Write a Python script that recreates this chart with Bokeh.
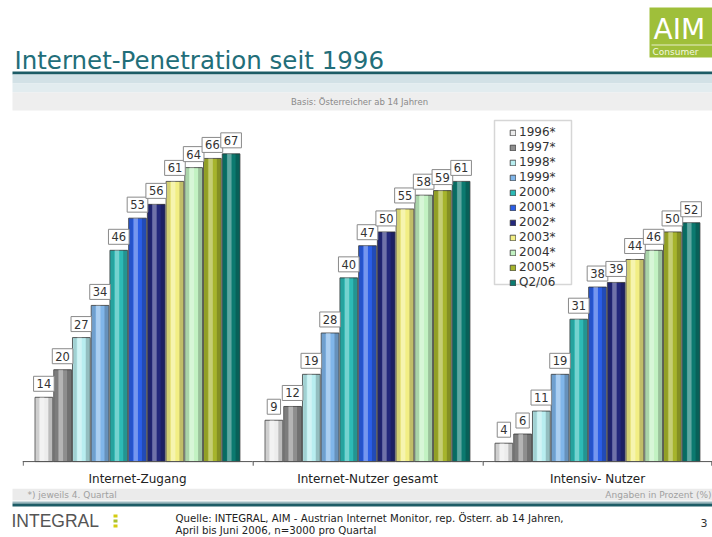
from bokeh.plotting import figure
from bokeh.models import Range1d, FactorRange, ColumnDataSource, BoxAnnotation, Spacer
from bokeh.transform import dodge
from bokeh.layouts import column, row
from bokeh.embed import file_html
from bokeh.resources import INLINE
from bokeh.core.properties import value

# ---------------- data ----------------
categories = ["Internet-Zugang", "Internet-Nutzer gesamt", "Intensiv- Nutzer"]
series_names = ["1996*", "1997*", "1998*", "1999*", "2000*", "2001*", "2002*",
                "2003*", "2004*", "2005*", "Q2/06"]
v1996 = [14, 9, 4]
v1997 = [20, 12, 6]
v1998 = [27, 19, 11]
v1999 = [34, 28, 19]
v2000 = [46, 40, 31]
v2001 = [53, 47, 38]
v2002 = [56, 50, 39]
v2003 = [61, 55, 44]
v2004 = [64, 58, 46]
v2005 = [66, 59, 50]
vQ206 = [67, 61, 52]
series_values = [v1996, v1997, v1998, v1999, v2000, v2001, v2002,
                 v2003, v2004, v2005, vQ206]
colors = ["#ececec", "#8e8e8e", "#b8eef0", "#80b6ea", "#2cbab6", "#2b5ee6",
          "#24297c", "#f2ee84", "#c2f2c2", "#a6b42c", "#0b7a70"]

FONT = "DejaVu Sans"
W = 712
TEAL_DARK = "#1d5c66"

def blank(fig):
    fig.axis.visible = False
    fig.grid.visible = False
    fig.outline_line_color = None
    fig.background_fill_color = "white"
    fig.border_fill_color = "white"

def txt(fig, x, y, s, size, color, align="left", font=FONT):
    fig.text(x=[x], y=[y], text=[s], text_font=value(font), text_font_size=size,
             text_color=color, text_align=align, text_baseline="middle")

# ---------------- header (page y 0..112) ----------------
HH = 112
head = figure(width=W, height=HH, x_range=Range1d(0, W), y_range=Range1d(HH, 0),
              toolbar_location=None, output_backend="svg", min_border=0)
blank(head)
# AIM logo
head.quad(left=649, right=W, top=7, bottom=57, fill_color="#9fbf3a", line_color=None)
head.quad(left=651, right=W, top=44, bottom=45, fill_color="#e8f0c8", line_color=None)
txt(head, 653, 29, "AIM", "28px", "white")
txt(head, 652, 51, "Consumer", "9px", "#f4f8e0")
# title
txt(head, 14, 59.5, "Internet-Penetration seit 1996", "24.5px", "#226e79")
head.quad(left=12, right=W, top=71, bottom=74, fill_color=TEAL_DARK, line_color=None)
head.quad(left=12, right=W, top=74, bottom=83, fill_color="#d2e1e6", line_color=None)
head.quad(left=12, right=W, top=83, bottom=92, fill_color="#e2ecef", line_color=None)
head.quad(left=12, right=W, top=92, bottom=110, fill_color="#eeeeee", line_color=None)
txt(head, 359, 101, "Basis: Österreicher ab 14 Jahren", "8.5px", "#8a8a8a", "center")

# ---------------- chart (page y 112..488, x 22..712) ----------------
chart = figure(width=W - 22, height=376, x_range=FactorRange(factors=categories),
               y_range=Range1d(-1.94, 76), toolbar_location=None, output_backend="svg",
               min_border_left=0, min_border_right=0, min_border_top=0,
               min_border_bottom=15)
chart.grid.visible = False
chart.outline_line_color = None
chart.yaxis.visible = False
chart.xaxis.axis_line_color = None
chart.xaxis.major_tick_line_color = None
chart.xaxis.minor_tick_line_color = None
chart.xaxis.major_tick_out = 0
chart.xaxis.major_tick_in = 0
chart.xaxis.major_label_text_font = FONT
chart.xaxis.major_label_text_font_size = "12px"
chart.xaxis.major_label_text_color = "#222222"
chart.xaxis.major_label_standoff = 1

# legend frame (drawn beneath the glyphs)
chart.add_layout(BoxAnnotation(left=472, right=549, top=350, bottom=186,
                               left_units="screen", right_units="screen",
                               top_units="screen", bottom_units="screen",
                               fill_color="white", fill_alpha=1, line_color="#777777",
                               line_width=1.5, level="underlay"))

bar_w = 0.077
step = 0.0814
n = len(series_names)
src = ColumnDataSource(dict(cat=categories, **{f"s{i}": series_values[i] for i in range(n)},
                            **{f"t{i}": [str(v) for v in series_values[i]] for i in range(n)}))

for i, name in enumerate(series_names):
    off = (i - (n - 1) / 2) * step
    chart.vbar(x=dodge("cat", off, range=chart.x_range), top=f"s{i}", width=bar_w,
               source=src, fill_color=colors[i], line_color="#3a3a3a", line_width=0.8,
               legend_label=name)
    # cylinder shading
    chart.vbar(x=dodge("cat", off - bar_w * 0.36, range=chart.x_range), top=f"s{i}",
               width=bar_w * 0.2, source=src, fill_color="black", fill_alpha=0.12,
               line_color=None)
    chart.vbar(x=dodge("cat", off - bar_w * 0.1, range=chart.x_range), top=f"s{i}",
               width=bar_w * 0.25, source=src, fill_color="white", fill_alpha=0.35,
               line_color=None)
    chart.vbar(x=dodge("cat", off + bar_w * 0.36, range=chart.x_range), top=f"s{i}",
               width=bar_w * 0.22, source=src, fill_color="black", fill_alpha=0.2,
               line_color=None)

for i in range(n):
    off = (i - (n - 1) / 2) * step
    chart.text(x=dodge("cat", off, range=chart.x_range), y=f"s{i}", text=f"t{i}",
               source=src, text_font=value(FONT), text_font_size="11.5px",
               text_color="#333333", text_align="center", text_baseline="bottom",
               y_offset=-6, padding=3, background_fill_color="white",
               border_line_color="#8a8a8a", border_line_width=1)

# baseline and dividers
sep = ColumnDataSource(dict(cat=categories))
chart.segment(x0=dodge("cat", -0.5, range=chart.x_range), x1=dodge("cat", 0.5, range=chart.x_range),
              y0=0, y1=0, source=sep, line_color="#555555", line_width=1)
chart.segment(x0=dodge("cat", -0.497, range=chart.x_range), x1=dodge("cat", -0.497, range=chart.x_range),
              y0=0, y1=-0.9, source=sep, line_color="#555555", line_width=1)
sep_end = ColumnDataSource(dict(cat=categories[-1:]))
chart.segment(x0=dodge("cat", 0.497, range=chart.x_range), x1=dodge("cat", 0.497, range=chart.x_range),
              y0=0, y1=-0.9, source=sep_end, line_color="#555555", line_width=1)

lg = chart.legend[0]
lg.location = (487, 181)
lg.border_line_color = None
lg.background_fill_alpha = 0
lg.padding = 2
lg.spacing = 1
lg.margin = 0
lg.label_height = 13
lg.glyph_height = 7
lg.glyph_width = 7
lg.label_standoff = 3
lg.label_text_font = FONT
lg.label_text_font_size = "12px"
lg.label_text_color = "#333333"

# ---------------- footer (page y 488..537) ----------------
foot = figure(width=W, height=49, x_range=Range1d(0, W), y_range=Range1d(537, 488),
              toolbar_location=None, output_backend="svg", min_border=0)
blank(foot)
foot.quad(left=12, right=W, top=488, bottom=500, fill_color="#ebebeb", line_color=None)
txt(foot, 27, 494, "*) jeweils 4. Quartal", "9px", "#a0a0a0")
txt(foot, 711, 494, "Angaben in Prozent (%)", "9px", "#a0a0a0", "right")
foot.quad(left=12, right=W, top=501, bottom=503, fill_color="#9bb8be", line_color=None)
foot.quad(left=12, right=W, top=503, bottom=506, fill_color=TEAL_DARK, line_color=None)
txt(foot, 11, 520, "INTEGRAL", "17.5px", "#555555", font="Liberation Sans")
foot.quad(left=[113, 113, 113], right=[117, 117, 117], top=[514, 519, 524],
          bottom=[517, 522, 527], fill_color=["#d4cc10", "#a8c030", "#d4cc10"],
          line_color=None)
txt(foot, 175, 518, "Quelle: INTEGRAL, AIM - Austrian Internet Monitor, rep. Österr. ab 14 Jahren,",
    "10.2px", "#222222")
txt(foot, 175, 530, "April bis Juni 2006, n=3000 pro Quartal", "10.2px", "#222222")
txt(foot, 707, 522, "3", "11px", "#333333", "right")

layout = column(head, row(Spacer(width=22, height=376), chart), foot, spacing=0)
open("out.html", "w").write(file_html(layout, INLINE))
